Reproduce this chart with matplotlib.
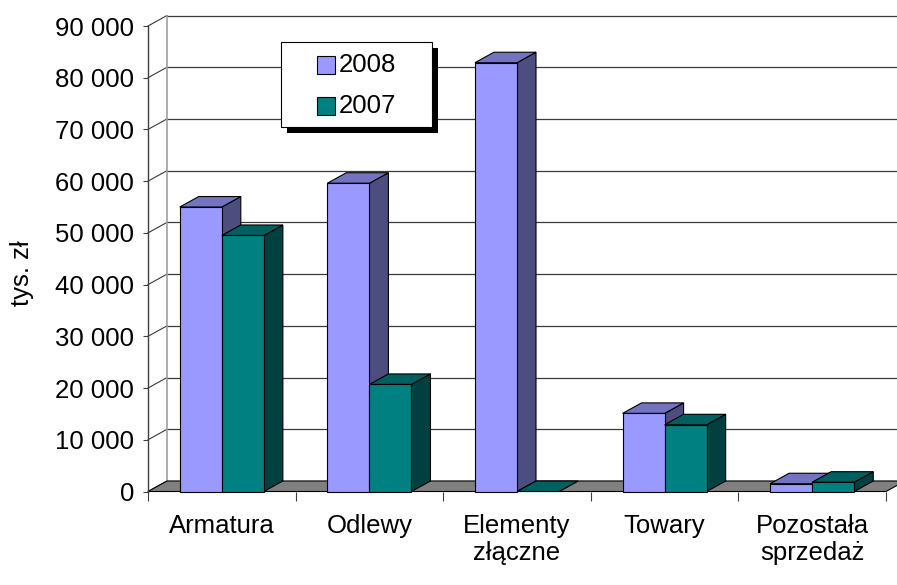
import numpy as np
import matplotlib
matplotlib.use("Agg")
import matplotlib.pyplot as plt
from matplotlib.patches import Polygon, Rectangle

plt.rcParams.update({"font.family":["Liberation Sans","DejaVu Sans"],"font.size":18.5})

categories=["Armatura","Odlewy","Elementy\nzłączne","Towary","Pozostała\nsprzedaż"]
years=["2008","2007"]
v2008=[55000,59600,82900,15100,1500]
v2007=[49500,20700,0,12900,1800]
yticks=np.arange(0,90001,10000)

# front / top / side shades per series
face={"2008":"#9999FF","2007":"#008080"}
top={"2008":"#7373BF","2007":"#006060"}
side={"2008":"#4D4D80","2007":"#004040"}

W,H=897,585
fig=plt.figure(figsize=(W/100,H/100),dpi=100)
x0,x1,y0,y1=148,886,491.5,26          # front plane in px
ax=fig.add_axes([x0/W,1-y0/H,(x1-x0)/W,(y0-y1)/H])
ax.set_xlim(0,5); ax.set_ylim(0,90000)
dx=19/((x1-x0)/5); dy=10.5*90000/(y0-y1)   # depth of the 3d box in data units

# walls: back gridlines, left-wall diagonals, back corner
for v in yticks:
    ax.plot([dx,5+dx],[v+dy,v+dy],color="#3a3a3a",lw=0.9,clip_on=False,zorder=1)
    ax.plot([0,dx],[v,v+dy],color="#3a3a3a",lw=0.8,clip_on=False,zorder=1)
ax.plot([dx,dx],[dy,90000+dy],color="#a0a0a0",lw=1.2,clip_on=False,zorder=1)

# floor
ax.add_patch(Polygon([(0,0),(5,0),(5+dx,dy),(dx,dy)],closed=True,fc="#808080",ec="black",lw=0.8,clip_on=False,zorder=2))

bw=0.285; off=0.215
z=3
for i in range(len(categories)):
    for j,(yr,vals) in enumerate(zip(years,[v2008,v2007])):
        xl=i+off+j*bw; v=vals[i]
        kw=dict(ec="black",lw=0.8,clip_on=False,zorder=z)
        ax.add_patch(Polygon([(xl+bw,0),(xl+bw+dx,dy),(xl+bw+dx,v+dy),(xl+bw,v)],closed=True,fc=side[yr],**kw))
        ax.add_patch(Polygon([(xl,v),(xl+dx,v+dy),(xl+bw+dx,v+dy),(xl+bw,v)],closed=True,fc=top[yr],**kw))
        if v>0: ax.add_patch(Rectangle((xl,0),bw,v,fc=face[yr],**kw))
        z+=1

for s in ["top","right","bottom"]: ax.spines[s].set_visible(False)
ax.spines["left"].set_color("#404040"); ax.spines["left"].set_linewidth(1.0)
ax.set_yticks(yticks)
ax.set_yticklabels([f"{int(v):,}".replace(","," ") for v in yticks])
ax.tick_params(axis="y",direction="out",length=3.6,width=0.8,color="#404040",pad=6.5)
ax.set_xticks(np.arange(0,6))
ax.set_xticklabels([])
ax.tick_params(axis="x",which="major",direction="out",length=6.5,width=0.8,color="#404040")
ax.set_xticks(np.arange(len(categories))+0.5,minor=True)
ax.set_xticklabels(categories,minor=True)
ax.tick_params(axis="x",which="minor",length=0,pad=16)
for lbl in ax.get_xticklabels(minor=True): lbl.set_linespacing(1.15)
ax.patch.set_visible(False)

fig.text(22/W,1-273/H,"tys. zł",rotation=90,ha="center",va="center")

# legend box with hard shadow
px=lambda x,y,w,h:(x/W,1-(y+h)/H,w/W,h/H)
bx,by,bw_,bh=281,41.7,151,85.6
fig.patches.append(Rectangle(px(bx+6,by+6,bw_,bh)[:2],bw_/W,bh/H,fc="black",ec="none",transform=fig.transFigure,zorder=5))
fig.patches.append(Rectangle(px(bx,by,bw_,bh)[:2],bw_/W,bh/H,fc="white",ec="black",lw=0.8,transform=fig.transFigure,zorder=6))
for k,(yr,yc) in enumerate(zip(years,[64.5,106])):
    fig.patches.append(Rectangle(px(316.7,yc-9,18,18)[:2],18/W,18/H,fc=face[yr],ec="black",lw=0.8,transform=fig.transFigure,zorder=7))
    fig.text(339/W,1-yc/H,yr,ha="left",va="center",zorder=8)

fig.savefig("out.png",dpi=100)
